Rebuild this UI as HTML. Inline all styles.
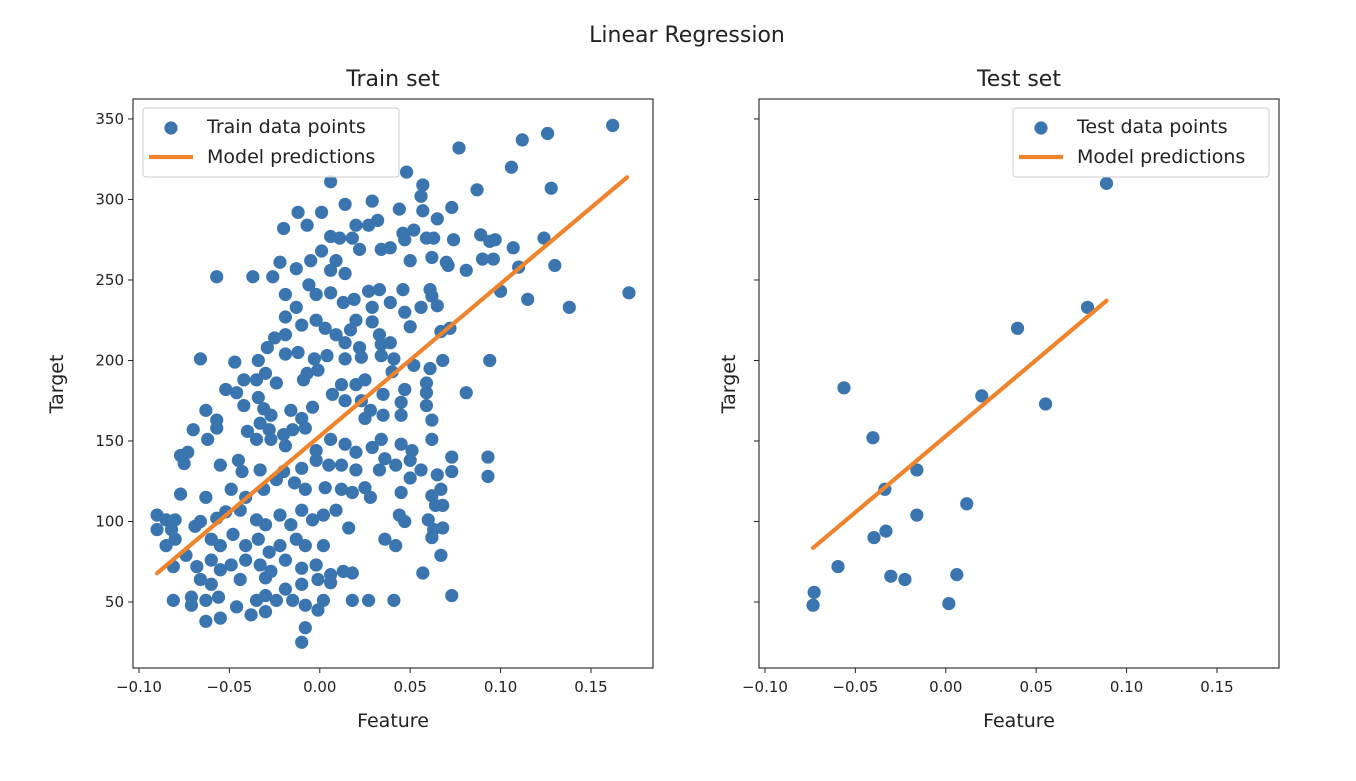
<!DOCTYPE html>
<html><head><meta charset="utf-8"><style>
body{margin:0;background:#fff;}
svg text{font-family:"DejaVu Sans","Liberation Sans",sans-serif;fill:#222;}
</style></head><body>
<svg id="chart" width="1356" height="776" xmlns="http://www.w3.org/2000/svg">
<rect width="1356" height="776" fill="#fff"/>
<text x="687" y="42" text-anchor="middle" font-size="22">Linear Regression</text>
</svg>
<script>
const trainX=[.162,.126,.112,.077,.106,.006,.048,.057,.128,.087,.073,.029,.014,-.012,.001,.056,.044,.057,.032,.020,-.020,-.007,.027,.052,.065,.059,.063,.074,.089,.094,.097,.107,.039,.006,.011,.018,.022,.034,.047,.050,.062,.071,.081,.090,.096,.124,.110,.130,.115,.138,.171,.100,.070,.046,-.022,-.013,-.057,-.037,-.026,-.005,.001,.009,.006,.014,-.019,-.006,-.002,.006,.013,.019,.027,.033,.029,.039,.046,.061,.062,.047,.056,.065,.072,.050,.067,.020,.029,.017,.033,.014,.022,.034,.039,-.019,-.013,-.010,-.002,.003,.009,-.025,-.029,-.019,-.012,-.003,.004,.014,.023,.034,.040,.041,.052,.094,.081,.059,.061,.068,-.066,-.047,-.034,-.019,-.042,-.046,-.052,-.035,-.030,-.024,-.034,-.007,-.001,-.009,.012,.020,.025,.007,-.004,.014,.023,.035,.047,.045,.059,.059,.062,.045,.035,.028,.025,-.031,-.027,-.016,-.010,-.008,-.042,-.063,-.033,-.028,-.020,-.015,-.057,-.057,-.070,-.062,-.040,-.035,-.027,-.019,-.002,.006,.014,.020,.029,.034,.045,.051,.062,.093,.093,.073,.073,-.075,-.077,-.073,-.055,-.045,-.043,-.033,-.020,-.010,-.002,.005,.012,.020,.033,.036,.042,.050,.056,.065,.067,.050,-.077,-.063,-.049,-.041,-.031,-.024,-.014,-.008,.003,.012,.018,.025,.028,.045,.062,.064,.068,-.090,-.085,-.080,-.090,-.082,-.069,-.066,-.057,-.052,-.044,-.035,-.030,-.022,-.016,-.010,-.004,.002,.009,.016,.044,.047,.060,.063,.068,-.085,-.080,-.074,-.060,-.055,-.048,-.041,-.034,-.028,-.022,-.013,-.008,.002,.036,.042,.062,.067,-.081,-.068,-.060,-.055,-.049,-.041,-.033,-.027,-.019,-.010,-.002,.006,.013,.018,.057,-.066,-.060,-.044,-.030,-.010,-.001,.006,-.081,-.071,-.063,-.056,-.071,-.046,-.035,-.030,-.015,-.008,-.001,.002,.018,.027,.041,.073,-.063,-.055,-.038,-.030,-.008,-.010,-.019,-.024];
const trainY=[346,341,337,332,320,311,317,309,307,306,295,299,297,292,292,302,294,293,287,284,282,284,284,281,288,276,276,275,278,274,275,270,270,277,276,276,269,269,275,262,264,259,256,263,263,276,258,259,238,233,242,243,261,279,261,257,252,252,252,262,268,262,256,254,241,247,241,242,236,238,243,244,233,236,244,244,240,230,233,234,220,221,218,225,224,219,216,211,208,210,211,227,233,222,225,220,216,214,208,216,205,201,203,201,202,203,193,201,197,200,180,186,195,200,201,199,200,204,188,180,182,188,192,186,177,192,194,188,185,185,188,179,171,175,175,179,182,174,180,172,163,166,166,169,164,170,166,169,164,158,172,169,161,157,154,157,163,158,157,151,156,151,151,147,144,151,148,143,146,151,148,144,151,140,128,140,131,136,141,143,135,138,131,132,131,133,138,135,135,132,132,139,135,138,132,129,120,127,117,115,120,115,120,126,124,120,121,120,118,121,115,118,116,110,110,104,101,101,95,95,97,100,102,106,107,101,98,104,98,107,101,104,107,96,104,100,101,95,96,85,89,79,89,85,92,85,89,81,85,89,85,85,89,85,90,79,72,72,76,70,73,76,73,69,76,71,73,67,69,68,68,64,61,64,65,61,64,62,51,53,51,53,48,47,51,54,51,48,45,51,51,51,51,54,38,40,42,44,34,25,58,51];
const testX=[-.0734,-.0728,-.0596,-.0563,-.0403,-.0397,-.0337,-.0331,-.0304,-.0226,-.016,-.016,.0017,.0061,.0116,.0199,.0397,.0552,.0784,.0889];
const testY=[48,56,72,183,152,90,120,94,66,64,132,104,49,67,111,178,220,173,233,310];
const coefSlope=946, coefIntercept=153;
const trainLineX=[-0.09,0.17], testLineX=[-0.0734,0.0889];
const xTicks=[-0.10,-0.05,0.00,0.05,0.10,0.15];
const xTickLabels=["−0.10","−0.05","0.00","0.05","0.10","0.15"];
const yTicks=[50,100,150,200,250,300,350];
const yTickLabels=["50","100","150","200","250","300","350"];

const NS="http://www.w3.org/2000/svg";
const svg=document.getElementById('chart');
function mk(tag,attrs,parent){const e=document.createElementNS(NS,tag);for(const k in attrs)e.setAttribute(k,attrs[k]);(parent||svg).appendChild(e);return e;}
const X0=-0.1033,X1=0.1843,Y0=9.0,Y1=362.4;
function panel(left,title,xs,ys,lx,legendLabel,showYLabels,legendX,pname){
  const top=99,w=520,h=569;
  const sx=v=>left+(v-X0)/(X1-X0)*w;
  const sy=v=>top+h-(v-Y0)/(Y1-Y0)*h;
  const g=mk('g',{});
  
  
  const t=mk('text',{x:left+w/2,y:86,'text-anchor':'middle','font-size':'22'},g);
  t.textContent=title;
  
  
  xs.forEach((x,i)=>{
    const c=mk('circle',{cx:sx(x),cy:sy(ys[i]),r:6.6,fill:'#3a75af'},g);
    
    
  });
  const ln=mk('line',{x1:sx(lx[0]),y1:sy(coefIntercept+coefSlope*lx[0]),x2:sx(lx[1]),y2:sy(coefIntercept+coefSlope*lx[1]),stroke:'#f0842c','stroke-width':4.2,'stroke-linecap':'round'},g);
  
  
  const fr=mk('rect',{x:left,y:top,width:w,height:h,fill:'none',stroke:'#222','stroke-width':1.1},g);
  
  
  xTicks.forEach((v,i)=>{
    mk('line',{x1:sx(v),y1:top+h,x2:sx(v),y2:top+h+5,stroke:'#222'},g);
    const tl=mk('text',{x:sx(v),y:top+h+24,'text-anchor':'middle','font-size':'15'},g);
    tl.textContent=xTickLabels[i];
    
    
  });
  yTicks.forEach((v,i)=>{
    mk('line',{x1:left-5,y1:sy(v),x2:left,y2:sy(v),stroke:'#222'},g);
    if(showYLabels){
      const tl=mk('text',{x:left-9,y:sy(v)+5,'text-anchor':'end','font-size':'15'},g);
      tl.textContent=yTickLabels[i];
      
      
    }
  });
  const xl=mk('text',{x:left+w/2,y:727,'text-anchor':'middle','font-size':'19'},g);
  xl.textContent='Feature';
  
  
  const yx=showYLabels?63:735;
  const yl=mk('text',{x:yx,y:384,'text-anchor':'middle','font-size':'19',transform:`rotate(-90 ${yx} 384)`},g);
  yl.textContent='Target';
  
  
  const lg=mk('g',{},g);
  
  
  mk('rect',{x:legendX,y:108,width:256,height:69,rx:3,fill:'#fff','fill-opacity':0.85,stroke:'#ccc'},lg);
  mk('circle',{cx:legendX+28,cy:128,r:6.6,fill:'#3a75af'},lg);
  mk('line',{x1:legendX+6,y1:157,x2:legendX+50,y2:157,stroke:'#f0842c','stroke-width':4.2},lg);
  const l1=mk('text',{x:legendX+64,y:133,'font-size':'19'},lg);
  l1.textContent=legendLabel;
  
  
  const l2=mk('text',{x:legendX+64,y:163,'font-size':'19'},lg);
  l2.textContent='Model predictions';
  
  
}
panel(133,'Train set',trainX,trainY,trainLineX,'Train data points',true,143,'train-panel');
panel(759,'Test set',testX,testY,testLineX,'Test data points',false,1013,'test-panel');
</script>
</body></html>
